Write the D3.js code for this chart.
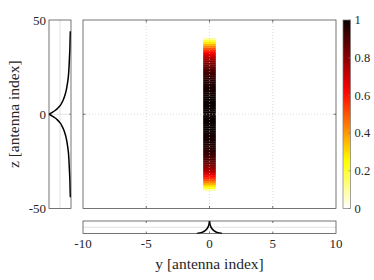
<!DOCTYPE html>
<html>
<head>
<meta charset="utf-8">
<script src="https://cdn.jsdelivr.net/npm/d3@7"></script>
<style>
  body { margin: 0; background: #fff; }
  text { font-family: "Liberation Serif", "DejaVu Serif", serif; fill: #262626; }
</style>
</head>
<body>
<div id="chartArea"></div>
<script>
// heatmap column at y = 0, one row per z index
const rowZ = d3.range(-40, 41);
const rowValues = [
  0.10, 0.20, 0.28, 0.36, 0.43, 0.50, 0.56, 0.61, 0.66, 0.70,
  0.74, 0.77, 0.80, 0.83, 0.85, 0.87, 0.89, 0.90, 0.92, 0.93,
  0.94, 0.95, 0.96, 0.96, 0.97, 0.97, 0.98, 0.98, 0.98, 0.99,
  0.99, 1.00, 1.00, 1.00, 1.00, 1.00, 1.00, 1.00, 1.00, 1.00,
  1.00,
  1.00, 1.00, 1.00, 1.00, 1.00, 1.00, 1.00, 1.00, 1.00, 0.99,
  0.99, 0.98, 0.98, 0.98, 0.97, 0.97, 0.96, 0.96, 0.95, 0.94,
  0.93, 0.92, 0.90, 0.89, 0.87, 0.85, 0.83, 0.80, 0.77, 0.74,
  0.70, 0.66, 0.61, 0.56, 0.50, 0.43, 0.36, 0.28, 0.20, 0.10
];

// marginal profile along z (left panel)
const profileZ = [-44, -40, -35, -30, -25, -20, -15, -12, -10, -8, -6, -5, -4, -3, -2, -1, 0,
                  1, 2, 3, 4, 5, 6, 8, 10, 12, 15, 20, 25, 30, 35, 40, 44];
const profileVal = [0.03, 0.04, 0.05, 0.07, 0.09, 0.12, 0.18, 0.23, 0.28, 0.34, 0.42, 0.47, 0.54, 0.62, 0.72, 0.85, 1.00,
                    0.85, 0.72, 0.62, 0.54, 0.47, 0.42, 0.34, 0.28, 0.23, 0.18, 0.12, 0.09, 0.07, 0.05, 0.04, 0.03];

// marginal profile along y (bottom panel)
const bottomY = [-1, -0.8, -0.6, -0.45, -0.3, -0.2, -0.1, -0.05, 0, 0.05, 0.1, 0.2, 0.3, 0.45, 0.6, 0.8, 1];
const bottomVal = [0.01, 0.04, 0.09, 0.16, 0.27, 0.38, 0.55, 0.7, 1, 0.7, 0.55, 0.38, 0.27, 0.16, 0.09, 0.04, 0.01];

const xTicks = [-10, -5, 0, 5, 10];
const zTicks = [-50, 0, 50];
const cbTicks = [0, 0.2, 0.4, 0.6, 0.8, 1];

const W = 374, H = 280;
const main = {x0: 83, x1: 336, y0: 20, y1: 208.5};
const left = {x0: 49, x1: 71};
const bot = {y0: 221, y1: 233.5};
const cb = {x0: 343, x1: 350.5};
const axisColor = "#3a3a3a";
const gridColor = "#d4d4d4";

let svg = d3.select('#chartArea').append('svg')
  .attr('width', W).attr('height', H);

let x = d3.scaleLinear().domain([-10, 10]).range([main.x0, main.x1]);
let z = d3.scaleLinear().domain([-50, 50]).range([main.y1, main.y0]);
let lx = d3.scaleLinear().domain([1, 0]).range([left.x0, left.x1]);
let by = d3.scaleLinear().domain([0, 1]).range([bot.y1, bot.y0]);
let cby = d3.scaleLinear().domain([0, 1]).range([main.y1, main.y0]);

// flipped "hot" colormap
let color = d3.scaleLinear()
  .domain([0, 0.25, 0.625, 1])
  .range(["#ffffff", "#ffff00", "#ff0000", "#0b0000"])
  .interpolate(d3.interpolateRgb);

// ---- main heatmap ----
svg.append('g').selectAll('rect').data(rowZ)
  .enter().append('rect')
  .attr('x', x(-0.5))
  .attr('width', x(0.5) - x(-0.5))
  .attr('y', d => z(d + 0.5))
  .attr('height', d => z(d - 0.5) - z(d + 0.5) + 0.3)
  .attr('fill', (d, i) => color(rowValues[i]));

// grid on top (dotted)
let grid = svg.append('g').attr('stroke', '#c4c4c4').attr('stroke-width', 0.6)
  .attr('stroke-dasharray', '1,2');
grid.selectAll('line.v').data(xTicks.slice(1, -1)).enter().append('line')
  .attr('x1', d => x(d)).attr('x2', d => x(d))
  .attr('y1', main.y0).attr('y2', main.y1);
grid.selectAll('line.h').data(zTicks.slice(1, -1)).enter().append('line')
  .attr('y1', d => z(d)).attr('y2', d => z(d))
  .attr('x1', main.x0).attr('x2', main.x1);

function frame(x0, y0, x1, y1) {
  svg.append('rect').attr('x', x0).attr('y', y0)
    .attr('width', x1 - x0).attr('height', y1 - y0)
    .attr('fill', 'none').attr('stroke', axisColor).attr('stroke-width', 0.7);
}

// main frame and tick marks
frame(main.x0, main.y0, main.x1, main.y1);
let tk = svg.append('g').attr('stroke', axisColor).attr('stroke-width', 0.7);
xTicks.slice(1, -1).forEach(t => {
  tk.append('line').attr('x1', x(t)).attr('x2', x(t)).attr('y1', main.y0).attr('y2', main.y0 + 2.5);
  tk.append('line').attr('x1', x(t)).attr('x2', x(t)).attr('y1', main.y1).attr('y2', main.y1 - 2.5);
  tk.append('line').attr('x1', x(t)).attr('x2', x(t)).attr('y1', bot.y0).attr('y2', bot.y0 + 2);
  tk.append('line').attr('x1', x(t)).attr('x2', x(t)).attr('y1', bot.y1).attr('y2', bot.y1 - 2);
});
zTicks.slice(1, -1).forEach(t => {
  tk.append('line').attr('y1', z(t)).attr('y2', z(t)).attr('x1', main.x0).attr('x2', main.x0 + 2.5);
  tk.append('line').attr('y1', z(t)).attr('y2', z(t)).attr('x1', main.x1).attr('x2', main.x1 - 2.5);
  tk.append('line').attr('y1', z(t)).attr('y2', z(t)).attr('x1', left.x0).attr('x2', left.x0 + 2);
  tk.append('line').attr('y1', z(t)).attr('y2', z(t)).attr('x1', left.x1).attr('x2', left.x1 - 2);
});

// ---- left panel ----
svg.append('line').attr('x1', lx(0.5)).attr('x2', lx(0.5))
  .attr('y1', main.y0).attr('y2', main.y1)
  .attr('stroke', gridColor).attr('stroke-width', 0.7);
svg.append('line').attr('x1', left.x0).attr('x2', left.x1)
  .attr('y1', z(0)).attr('y2', z(0))
  .attr('stroke', gridColor).attr('stroke-width', 0.7);
let leftLine = d3.line().x(d => lx(d[1])).y(d => z(d[0])).curve(d3.curveMonotoneY);
let profilePts = profileZ.map((d, i) => [d, profileVal[i]]);
[profilePts.filter(d => d[0] <= 0), profilePts.filter(d => d[0] >= 0)].forEach(pts => {
  svg.append('path').attr('d', leftLine(pts.sort((a, b) => b[0] - a[0])))
    .attr('fill', 'none').attr('stroke', '#000').attr('stroke-width', 1.5);
});
frame(left.x0, main.y0, left.x1, main.y1);

// ---- bottom panel ----
svg.append('line').attr('x1', main.x0).attr('x2', main.x1)
  .attr('y1', by(0.5)).attr('y2', by(0.5))
  .attr('stroke', gridColor).attr('stroke-width', 0.7);
let botLine = d3.line().x(d => x(d[0])).y(d => by(d[1])).curve(d3.curveMonotoneX);
let botPts = bottomY.map((d, i) => [d, bottomVal[i]]);
[botPts.filter(d => d[0] <= 0), botPts.filter(d => d[0] >= 0)].forEach(pts => {
  svg.append('path').attr('d', botLine(pts))
    .attr('fill', 'none').attr('stroke', '#000').attr('stroke-width', 1.5);
});
frame(main.x0, bot.y0, main.x1, bot.y1);

// ---- colorbar ----
let grad = svg.append('defs').append('linearGradient').attr('id', 'cbGrad')
  .attr('x1', 0).attr('x2', 0).attr('y1', 1).attr('y2', 0);
d3.range(0, 1.0001, 0.05).forEach(v => {
  grad.append('stop').attr('offset', v).attr('stop-color', color(v));
});
svg.append('rect').attr('x', cb.x0).attr('y', main.y0)
  .attr('width', cb.x1 - cb.x0).attr('height', main.y1 - main.y0)
  .attr('fill', 'url(#cbGrad)')
  .attr('stroke', '#7a7a7a').attr('stroke-width', 0.7);
cbTicks.forEach(t => {
  svg.append('line').attr('x1', cb.x1).attr('x2', cb.x1 - 2)
    .attr('y1', cby(t)).attr('y2', cby(t))
    .attr('stroke', '#7a7a7a').attr('stroke-width', 0.7);
});
svg.append('g').selectAll('text').data(cbTicks).enter().append('text')
  .attr('x', cb.x1 + 4).attr('y', d => cby(d)).attr('dy', '0.35em')
  .attr('font-size', 12.5).text(d => d);

// ---- tick labels ----
svg.append('g').selectAll('text').data(xTicks).enter().append('text')
  .attr('x', d => x(d)).attr('y', 248).attr('text-anchor', 'middle')
  .attr('font-size', 13).text(d => d);
svg.append('g').selectAll('text').data(zTicks).enter().append('text')
  .attr('x', left.x0 - 3).attr('y', d => z(d)).attr('dy', '0.35em')
  .attr('text-anchor', 'end').attr('font-size', 13).text(d => d);

// ---- axis labels ----
svg.append('text').attr('x', x(0)).attr('y', 269).attr('text-anchor', 'middle')
  .attr('font-size', 15.5).text('y [antenna index]');
svg.append('text').attr('transform', `translate(19,${z(0)}) rotate(-90)`)
  .attr('text-anchor', 'middle').attr('font-size', 15.5).text('z [antenna index]');
</script>
</body>
</html>
